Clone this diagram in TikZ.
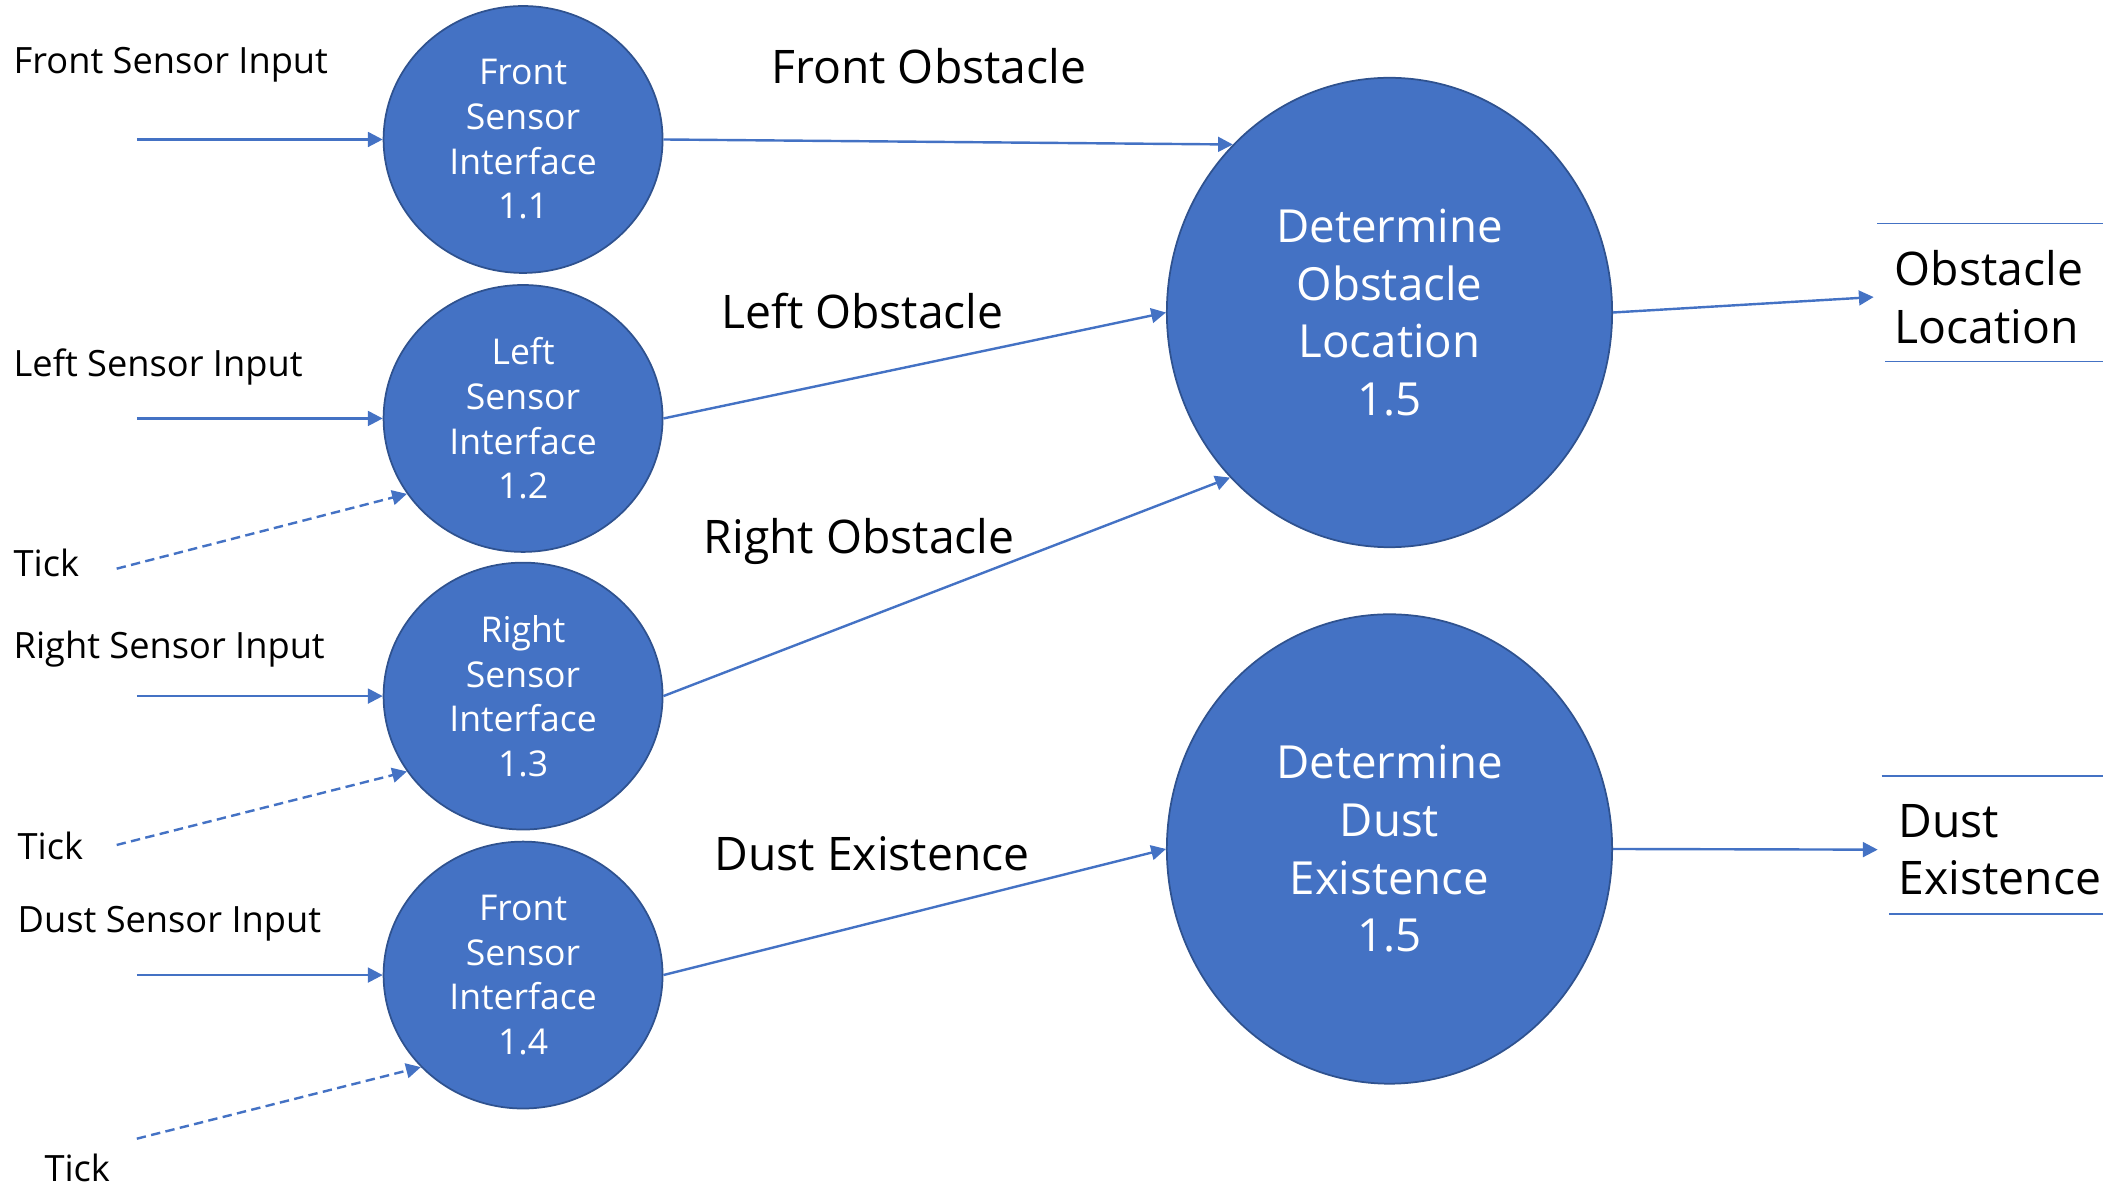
\documentclass[tikz,border=0pt]{standalone}
\usepackage{fontspec}
\setmainfont{Open Sans}
\usetikzlibrary{arrows.meta,shapes.geometric}
\definecolor{ob}{HTML}{4472C4}
\definecolor{obd}{HTML}{2F528F}
\begin{document}
\begin{tikzpicture}[x=1pt,y=-1pt,
  proc/.style={ellipse, fill=ob, draw=obd, line width=1.3pt, text=white, align=center,
    inner sep=0pt, minimum width=208pt, minimum height=199pt,
    font=\fontsize{26.5}{33.3}\selectfont},
  bigproc/.style={proc, minimum width=332pt, minimum height=350pt,
    font=\fontsize{34}{43}\selectfont},
  flow/.style={draw=ob, line width=1.8pt, -{Triangle[length=11pt,width=11pt]}},
  tickflow/.style={flow, dash pattern=on 7pt off 4pt},
  inlabel/.style={anchor=base west, inner sep=0pt, font=\fontsize{27}{33}\selectfont},
  flowlabel/.style={anchor=base west, inner sep=0pt, font=\fontsize{34.5}{43}\selectfont},
  outlabel/.style={anchor=west, inner ysep=0pt, inner xsep=15.5pt, align=left,
    font=\fontsize{34.5}{43}\selectfont},
  storeline/.style={draw=ob, line width=1.3pt}]
\useasboundingbox (0,0) rectangle (1568,885);

% processes
\node[proc] (C1) at (390,104) {Front\\Sensor\\Interface\\1.1};
\node[proc] (C2) at (390,312) {Left\\Sensor\\Interface\\1.2};
\node[proc] (C3) at (390,519) {Right\\Sensor\\Interface\\1.3};
\node[proc] (C4) at (390,727) {Front\\Sensor\\Interface\\1.4};
\node[bigproc] (B1) at (1036,233) {Determine\\Obstacle\\Location\\1.5};
\node[bigproc] (B2) at (1036,633) {Determine\\Dust\\Existence\\1.5};

% input labels
\node[inlabel] (lfsi) at (10,55) {Front Sensor Input};
\node[inlabel] (llsi) at (10,281) {Left Sensor Input};
\node[inlabel] (ltk1) at (10,430) {Tick};
\node[inlabel] (lrsi) at (10,491) {Right Sensor Input};
\node[inlabel] (ltk2) at (13,641) {Tick};
\node[inlabel] (ldsi) at (13,695) {Dust Sensor Input};
\node[inlabel] (ltk3) at (33,881) {Tick};

% flow labels
\node[flowlabel] (lfo) at (575,62.6) {Front Obstacle};
\node[flowlabel] (llo) at (537.7,245) {Left Obstacle};
\node[flowlabel] (lro) at (524.6,413) {Right Obstacle};
\node[flowlabel] (lde) at (532.6,648.7) {Dust Existence};

% data stores (outputs)
\node[outlabel] (olab) at (1397,221.5) {Obstacle\\Location};
\node[outlabel] (dlab) at (1400,633.5) {Dust\\Existence};
\draw[storeline] (1399.5,166.7) -- (1568,166.7);
\draw[storeline] (1405.5,269.5) -- (1568,269.5);
\draw[storeline] (1403,578.6) -- (1568,578.6);
\draw[storeline] (1408.5,681.5) -- (1568,681.5);

% input start points
\coordinate (sF) at (102,104);
\coordinate (sL) at (102,312);
\coordinate (sT1) at (87,424);
\coordinate (sR) at (102,519);
\coordinate (sT2) at (87,630);
\coordinate (sD) at (102,727);
\coordinate (sT3) at (102,849);

% input flows
\draw[flow] (sF) -- (C1.west);
\draw[flow] (sL) -- (C2.west);
\draw[tickflow] (sT1) -- (C2.213.6);
\draw[flow] (sR) -- (C3.west);
\draw[tickflow] (sT2) -- (C3.213.6);
\draw[flow] (sD) -- (C4.west);
\draw[tickflow] (sT3) -- (C4.222.6);

% internal flows
\draw[flow] (C1.east) -- (B1.133.4);
\draw[flow] (C2.east) -- (B1.west);
\draw[flow] (C3.east) -- (B1.226.6);
\draw[flow] (C4.east) -- (B2.west);

% outputs
\draw[flow] (B1.east) -- (olab.west);
\draw[flow] (B2.east) -- (dlab.west);
\end{tikzpicture}
\end{document}
